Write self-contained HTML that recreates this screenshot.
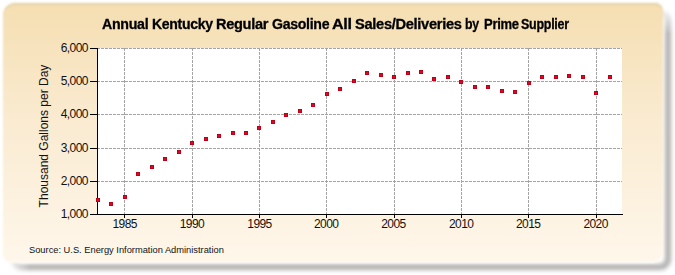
<!DOCTYPE html>
<html><head><meta charset="utf-8"><style>
html,body{margin:0;padding:0;width:675px;height:275px;overflow:hidden;background:#fff;}
body{position:relative;font-family:"Liberation Sans",sans-serif;}
.shwrap{position:absolute;left:0;top:0;width:675px;height:275px;-webkit-mask-image:linear-gradient(to bottom,transparent 6px,#000 34px),linear-gradient(to right,transparent 6px,#000 30px);-webkit-mask-composite:source-in;mask-composite:intersect;}
.shadow{position:absolute;left:10px;top:9px;width:661px;height:261px;box-sizing:border-box;border-radius:11px;border:6px solid #b1b0ae;filter:blur(2.1px);}
.panel{position:absolute;left:3px;top:3px;width:660px;height:259px;border-radius:12px 8px 10px 8px;box-shadow:0 1px 0 #fffdf8, inset 0 2px 2px -1px rgba(150,150,110,0.35);filter:blur(0.8px);background:linear-gradient(to bottom,#f5deb1 0%,#faebd1 45%,#fff7eb 100%);}
svg{position:absolute;left:0;top:0;}
.tw{position:absolute;top:16px;font-weight:bold;font-size:14px;letter-spacing:-0.3px;color:#000;white-space:nowrap;transform-origin:0 0;line-height:16px;-webkit-text-stroke:0.3px #000;}
.yl{position:absolute;left:20px;width:67.8px;text-align:right;font-size:12px;letter-spacing:-0.6px;color:#111;line-height:14px;}
.xl{position:absolute;top:217px;width:40px;text-align:center;font-size:12px;letter-spacing:-0.6px;color:#111;line-height:14px;}
.ytitle{position:absolute;left:44px;top:129px;width:200px;margin-left:-100px;text-align:center;font-size:12px;color:#111;line-height:14px;transform:rotate(-90deg);white-space:nowrap;}
.src{position:absolute;left:29px;top:243.5px;font-size:9.3px;color:#111;white-space:nowrap;line-height:12px;}
</style></head><body>
<div class="shwrap"><div class="shadow"></div></div>
<div class="panel"></div>
<span class="tw" style="left:101.9px;transform:scaleX(1.014)">Annual</span><span class="tw" style="left:151.7px;transform:scaleX(1.002)">Kentucky</span><span class="tw" style="left:216.1px;transform:scaleX(1.041)">Regular</span><span class="tw" style="left:271.5px;transform:scaleX(1.009)">Gasoline</span><span class="tw" style="left:332.1px;transform:scaleX(1.153)">All</span><span class="tw" style="left:354.5px;transform:scaleX(1.047)">Sales/Deliveries</span><span class="tw" style="left:465.3px;transform:scaleX(0.880)">by</span><span class="tw" style="left:483.5px;transform:scaleX(0.931)">Prime</span><span class="tw" style="left:521.1px;transform:scaleX(0.892)">Supplier</span>
<svg width="675" height="275" viewBox="0 0 675 275" shape-rendering="crispEdges"><rect x="98" y="48" width="524" height="166" fill="#ffffff"/><line x1="124.5" y1="48" x2="124.5" y2="214" stroke="#a4a4a4" stroke-width="1" stroke-dasharray="3 1"/><line x1="192.5" y1="48" x2="192.5" y2="214" stroke="#a4a4a4" stroke-width="1" stroke-dasharray="3 1"/><line x1="259.5" y1="48" x2="259.5" y2="214" stroke="#a4a4a4" stroke-width="1" stroke-dasharray="3 1"/><line x1="326.5" y1="48" x2="326.5" y2="214" stroke="#a4a4a4" stroke-width="1" stroke-dasharray="3 1"/><line x1="394.5" y1="48" x2="394.5" y2="214" stroke="#a4a4a4" stroke-width="1" stroke-dasharray="3 1"/><line x1="461.5" y1="48" x2="461.5" y2="214" stroke="#a4a4a4" stroke-width="1" stroke-dasharray="3 1"/><line x1="528.5" y1="48" x2="528.5" y2="214" stroke="#a4a4a4" stroke-width="1" stroke-dasharray="3 1"/><line x1="596.5" y1="48" x2="596.5" y2="214" stroke="#a4a4a4" stroke-width="1" stroke-dasharray="3 1"/><line x1="97" y1="48.5" x2="622" y2="48.5" stroke="#a4a4a4" stroke-width="1" stroke-dasharray="3 1"/><line x1="97" y1="81.5" x2="622" y2="81.5" stroke="#a4a4a4" stroke-width="1" stroke-dasharray="3 1"/><line x1="97" y1="114.5" x2="622" y2="114.5" stroke="#a4a4a4" stroke-width="1" stroke-dasharray="3 1"/><line x1="97" y1="148.5" x2="622" y2="148.5" stroke="#a4a4a4" stroke-width="1" stroke-dasharray="3 1"/><line x1="97" y1="181.5" x2="622" y2="181.5" stroke="#a4a4a4" stroke-width="1" stroke-dasharray="3 1"/><rect x="97" y="48" width="1" height="167" fill="#000"/><rect x="97" y="214" width="526" height="1" fill="#000"/><rect x="90" y="48" width="7" height="1" fill="#000"/><rect x="90" y="81" width="7" height="1" fill="#000"/><rect x="90" y="114" width="7" height="1" fill="#000"/><rect x="90" y="148" width="7" height="1" fill="#000"/><rect x="90" y="181" width="7" height="1" fill="#000"/><rect x="90" y="214" width="7" height="1" fill="#000"/><rect x="124" y="215" width="1" height="3" fill="#000"/><rect x="192" y="215" width="1" height="3" fill="#000"/><rect x="259" y="215" width="1" height="3" fill="#000"/><rect x="326" y="215" width="1" height="3" fill="#000"/><rect x="394" y="215" width="1" height="3" fill="#000"/><rect x="461" y="215" width="1" height="3" fill="#000"/><rect x="528" y="215" width="1" height="3" fill="#000"/><rect x="596" y="215" width="1" height="3" fill="#000"/><rect x="96" y="198" width="4" height="4" fill="#bb0019"/><rect x="97" y="199" width="2" height="2" fill="#e3061f"/><rect x="109" y="202" width="4" height="4" fill="#bb0019"/><rect x="110" y="203" width="2" height="2" fill="#e3061f"/><rect x="123" y="195" width="4" height="4" fill="#bb0019"/><rect x="124" y="196" width="2" height="2" fill="#e3061f"/><rect x="136" y="172" width="4" height="4" fill="#bb0019"/><rect x="137" y="173" width="2" height="2" fill="#e3061f"/><rect x="150" y="165" width="4" height="4" fill="#bb0019"/><rect x="151" y="166" width="2" height="2" fill="#e3061f"/><rect x="163" y="157" width="4" height="4" fill="#bb0019"/><rect x="164" y="158" width="2" height="2" fill="#e3061f"/><rect x="177" y="150" width="4" height="4" fill="#bb0019"/><rect x="178" y="151" width="2" height="2" fill="#e3061f"/><rect x="190" y="141" width="4" height="4" fill="#bb0019"/><rect x="191" y="142" width="2" height="2" fill="#e3061f"/><rect x="204" y="137" width="4" height="4" fill="#bb0019"/><rect x="205" y="138" width="2" height="2" fill="#e3061f"/><rect x="217" y="134" width="4" height="4" fill="#bb0019"/><rect x="218" y="135" width="2" height="2" fill="#e3061f"/><rect x="231" y="131" width="4" height="4" fill="#bb0019"/><rect x="232" y="132" width="2" height="2" fill="#e3061f"/><rect x="244" y="131" width="4" height="4" fill="#bb0019"/><rect x="245" y="132" width="2" height="2" fill="#e3061f"/><rect x="257" y="126" width="4" height="4" fill="#bb0019"/><rect x="258" y="127" width="2" height="2" fill="#e3061f"/><rect x="271" y="120" width="4" height="4" fill="#bb0019"/><rect x="272" y="121" width="2" height="2" fill="#e3061f"/><rect x="284" y="113" width="4" height="4" fill="#bb0019"/><rect x="285" y="114" width="2" height="2" fill="#e3061f"/><rect x="298" y="109" width="4" height="4" fill="#bb0019"/><rect x="299" y="110" width="2" height="2" fill="#e3061f"/><rect x="311" y="103" width="4" height="4" fill="#bb0019"/><rect x="312" y="104" width="2" height="2" fill="#e3061f"/><rect x="325" y="92" width="4" height="4" fill="#bb0019"/><rect x="326" y="93" width="2" height="2" fill="#e3061f"/><rect x="338" y="87" width="4" height="4" fill="#bb0019"/><rect x="339" y="88" width="2" height="2" fill="#e3061f"/><rect x="352" y="79" width="4" height="4" fill="#bb0019"/><rect x="353" y="80" width="2" height="2" fill="#e3061f"/><rect x="365" y="71" width="4" height="4" fill="#bb0019"/><rect x="366" y="72" width="2" height="2" fill="#e3061f"/><rect x="379" y="73" width="4" height="4" fill="#bb0019"/><rect x="380" y="74" width="2" height="2" fill="#e3061f"/><rect x="392" y="75" width="4" height="4" fill="#bb0019"/><rect x="393" y="76" width="2" height="2" fill="#e3061f"/><rect x="406" y="71" width="4" height="4" fill="#bb0019"/><rect x="407" y="72" width="2" height="2" fill="#e3061f"/><rect x="419" y="70" width="4" height="4" fill="#bb0019"/><rect x="420" y="71" width="2" height="2" fill="#e3061f"/><rect x="432" y="77" width="4" height="4" fill="#bb0019"/><rect x="433" y="78" width="2" height="2" fill="#e3061f"/><rect x="446" y="75" width="4" height="4" fill="#bb0019"/><rect x="447" y="76" width="2" height="2" fill="#e3061f"/><rect x="459" y="80" width="4" height="4" fill="#bb0019"/><rect x="460" y="81" width="2" height="2" fill="#e3061f"/><rect x="473" y="85" width="4" height="4" fill="#bb0019"/><rect x="474" y="86" width="2" height="2" fill="#e3061f"/><rect x="486" y="85" width="4" height="4" fill="#bb0019"/><rect x="487" y="86" width="2" height="2" fill="#e3061f"/><rect x="500" y="89" width="4" height="4" fill="#bb0019"/><rect x="501" y="90" width="2" height="2" fill="#e3061f"/><rect x="513" y="90" width="4" height="4" fill="#bb0019"/><rect x="514" y="91" width="2" height="2" fill="#e3061f"/><rect x="527" y="81" width="4" height="4" fill="#bb0019"/><rect x="528" y="82" width="2" height="2" fill="#e3061f"/><rect x="540" y="75" width="4" height="4" fill="#bb0019"/><rect x="541" y="76" width="2" height="2" fill="#e3061f"/><rect x="554" y="75" width="4" height="4" fill="#bb0019"/><rect x="555" y="76" width="2" height="2" fill="#e3061f"/><rect x="567" y="74" width="4" height="4" fill="#bb0019"/><rect x="568" y="75" width="2" height="2" fill="#e3061f"/><rect x="581" y="75" width="4" height="4" fill="#bb0019"/><rect x="582" y="76" width="2" height="2" fill="#e3061f"/><rect x="594" y="91" width="4" height="4" fill="#bb0019"/><rect x="595" y="92" width="2" height="2" fill="#e3061f"/><rect x="608" y="75" width="4" height="4" fill="#bb0019"/><rect x="609" y="76" width="2" height="2" fill="#e3061f"/></svg>
<div class="yl" style="top:41px">6,000</div><div class="yl" style="top:74px">5,000</div><div class="yl" style="top:107px">4,000</div><div class="yl" style="top:141px">3,000</div><div class="yl" style="top:174px">2,000</div><div class="yl" style="top:207px">1,000</div><div class="xl" style="left:104.7px">1985</div><div class="xl" style="left:171.9px">1990</div><div class="xl" style="left:239.5px">1995</div><div class="xl" style="left:306.2px">2000</div><div class="xl" style="left:373.4px">2005</div><div class="xl" style="left:441.2px">2010</div><div class="xl" style="left:508.2px">2015</div><div class="xl" style="left:575.6px">2020</div>
<div class="ytitle">Thousand Gallons per Day</div>
<div class="src">Source: U.S. Energy Information Administration</div>
</body></html>
